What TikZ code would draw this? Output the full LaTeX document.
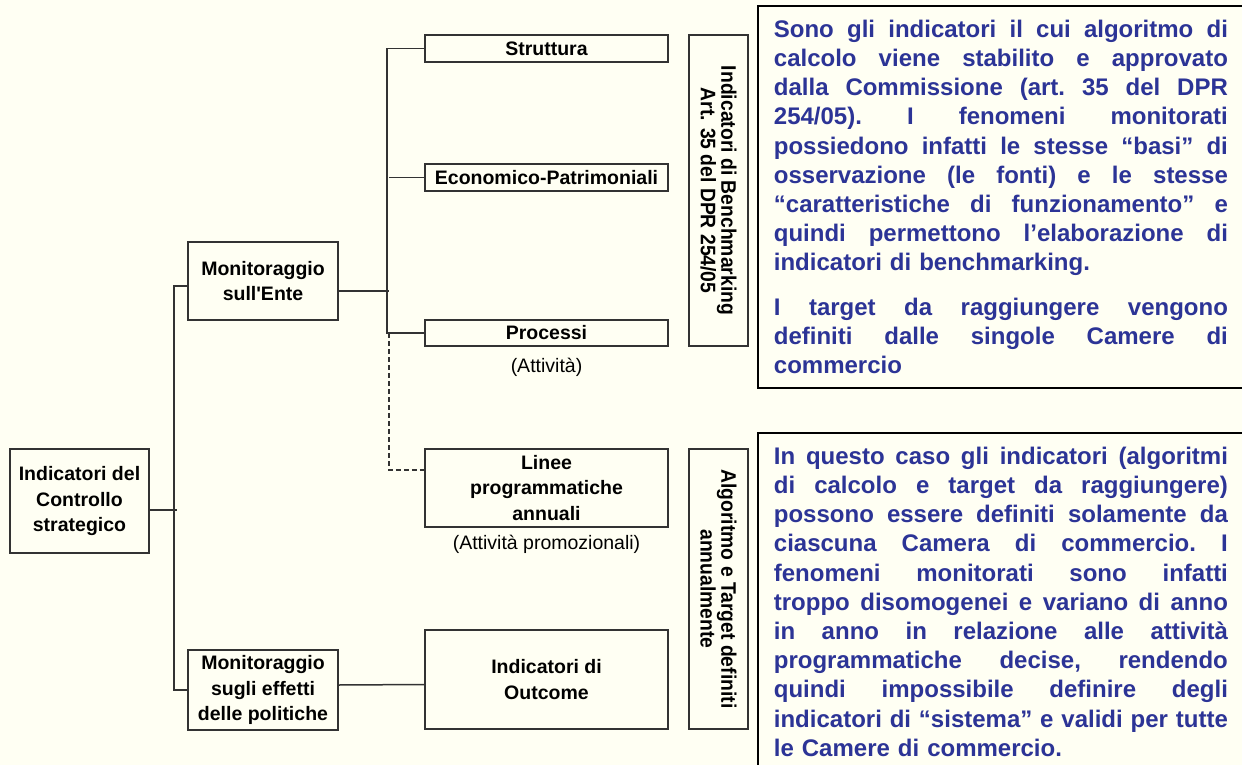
\documentclass[tikz,border=0pt]{standalone}
\usepackage{fontspec}
\setsansfont{Liberation Sans}
\newfontfamily\narrowsf[FakeStretch=0.92]{Liberation Sans}
\usepackage{tikz}
\usetikzlibrary{calc,positioning}
\definecolor{noteblue}{RGB}{44,52,150}
\definecolor{paper}{RGB}{255,255,243}
\newcommand{\jl}[1]{{\spaceskip=0.278em plus 1fil minus 0.1em\xspaceskip=\spaceskip
    \makebox[454pt][s]{#1}}}

\begin{document}
\begin{tikzpicture}[x=1pt, y=1pt,
    every node/.style={font=\sffamily},
    box/.style={draw=black!80, line width=1.6pt, rectangle, align=center, inner sep=2pt,
        font=\sffamily\bfseries\fontsize{19.5}{25.5}\selectfont},
    vbox/.style={box, rotate=-90, font=\narrowsf\bfseries\fontsize{21}{17.5}\selectfont},
    sub/.style={inner sep=1pt, font=\sffamily\fontsize{19.5}{24}\selectfont},
    note/.style={draw=black, line width=1.8pt, anchor=north west, text width=454pt,
        inner xsep=16pt, inner ysep=14pt, align=left, text=noteblue,
        font=\sffamily\bfseries\fontsize{24}{29.2}\selectfont\frenchspacing},
    conn/.style={draw=black!80, line width=1.5pt}]
    \fill[paper] (0,0) rectangle (1242,-765);
    \useasboundingbox (0,0) rectangle (1242,-765);

    \node[box, minimum width=139pt, minimum height=104pt] (root) at (79.5,-501) {Indicatori del\\Controllo\\strategico};
    \node[box, minimum width=150pt, minimum height=78pt] (ente) at (263,-281) {Monitoraggio\\sull\textquotesingle Ente};
    \node[box, minimum width=150pt, minimum height=80pt] (effetti) at (263,-690) {Monitoraggio\\sugli effetti\\delle politiche};

    \node[box, minimum width=243pt, minimum height=27pt] (struttura) at (546.5,-48.5) {Struttura};
    \node[box, minimum width=243pt, minimum height=27pt] (economico) at (546.5,-177.5) {Economico-Patrimoniali};
    \node[box, minimum width=243pt, minimum height=26pt] (processi) at (546.5,-333) {Processi};
    \node[sub, below=10pt of processi] (attivita) {(Attività)};
    \node[box, minimum width=243pt, minimum height=78pt] (linee) at (546.5,-488) {Linee\\programmatiche\\annuali};
    \node[sub, below=6pt of linee] (promo) {(Attività promozionali)};
    \node[box, minimum width=243pt, minimum height=99pt] (outcome) at (546.5,-679.5) {Indicatori di\\Outcome};

    \node[vbox, minimum width=311pt, minimum height=59pt] (bench) at (718.5,-190.5) {Indicatori di Benchmarking\\Art. 35 del DPR 254/05};
    \node[vbox, minimum width=280pt, minimum height=59pt] (algo) at (718.5,-589) {Algoritmo e Target definiti\\annualmente};

    \node[note] (noteBench) at (757,-5) {%
        \jl{Sono gli indicatori il cui algoritmo di}\\
        \jl{calcolo viene stabilito e approvato}\\
        \jl{dalla Commissione (art. 35 del DPR}\\
        \jl{254/05). I fenomeni monitorati}\\
        \jl{possiedono infatti le stesse “basi” di}\\
        \jl{osservazione (le fonti) e le stesse}\\
        \jl{“caratteristiche di funzionamento” e}\\
        \jl{quindi permettono l’elaborazione di}\\
        indicatori di benchmarking.\\[15pt]
        \jl{I target da raggiungere vengono}\\
        \jl{definiti dalle singole Camere di}\\
        commercio};
    \node[note] (noteAnnual) at (757,-432) {%
        \jl{In questo caso gli indicatori (algoritmi}\\
        \jl{di calcolo e target da raggiungere)}\\
        \jl{possono essere definiti solamente da}\\
        \jl{ciascuna Camera di commercio. I}\\
        \jl{fenomeni monitorati sono infatti}\\
        \jl{troppo disomogenei e variano di anno}\\
        \jl{in anno in relazione alle attività}\\
        \jl{programmatiche decise, rendendo}\\
        \jl{quindi impossibile definire degli}\\
        \jl{indicatori di “sistema” e validi per tutte}\\
        le Camere di commercio.};

    % tree connectors
    \draw[conn] ([yshift=-5pt]ente.west) -- ++(-13,0) coordinate (trunkL) |- (effetti.west);
    \draw[conn] ([yshift=-9pt]root.east) -- ([yshift=-9pt]root.east -| trunkL) -- ++(3,0);
    \draw[conn] ([yshift=-10pt]ente.east) -- ++(50,0) coordinate (trunkR);
    \draw[conn] (struttura.west) -- ++(-37,0) |- (processi.west);
    \draw[conn] (economico.west) -- (economico.west -| trunkR);
    \draw[conn, dash pattern=on 5pt off 3pt] (processi.west -| trunkR) |- ([yshift=18pt]linee.west);
    \draw[conn] ([yshift=5pt]effetti.east) -- ([yshift=-5pt]outcome.west);
\end{tikzpicture}
\end{document}
